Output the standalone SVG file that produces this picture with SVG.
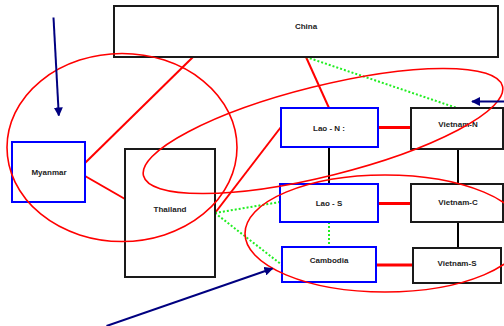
<svg xmlns="http://www.w3.org/2000/svg" width="504" height="326" viewBox="0 0 504 326">
<defs>
<style>
.box{fill:#fff;stroke:#1a1a1a;stroke-width:2}
.bbox{fill:#fff;stroke:#0000ff;stroke-width:2}
.lbl{font-family:"Liberation Sans",Arial,sans-serif;font-size:8px;font-weight:bold;fill:#222;text-anchor:middle}
.red{stroke:#ff0000;stroke-width:2;fill:none}
.red3{stroke:#ff0000;stroke-width:3;fill:none}
.blk{stroke:#000;stroke-width:2;fill:none}
.grn{stroke:#22ee22;stroke-width:2;stroke-dasharray:2 2;fill:none}
.ell{stroke:#ff0000;stroke-width:1.6;fill:none}
.arr{stroke:#000080;stroke-width:2;fill:none;marker-end:url(#ah)}
</style>
<marker id="ah" viewBox="0 0 10 10" refX="9" refY="5" markerWidth="4.5" markerHeight="4.5" orient="auto" markerUnits="strokeWidth">
<path d="M0,0 L10,5 L0,10 z" fill="#000080"/>
</marker>
</defs>
<rect width="504" height="326" fill="#fff"/>
<g id="connectors">
<line class="red" x1="193" y1="57" x2="85" y2="163"/>
<line class="red" x1="85" y1="176" x2="125" y2="199"/>
<line class="red" x1="306" y1="57" x2="329" y2="108"/>
<line class="grn" x1="306" y1="57" x2="457" y2="108"/>
<line class="red3" x1="378" y1="127.5" x2="411" y2="127.5"/>
<line class="red" x1="215" y1="213" x2="281" y2="127"/>
<line class="grn" x1="215" y1="213" x2="280" y2="202"/>
<line class="grn" x1="215" y1="213" x2="282" y2="265"/>
<line class="blk" x1="329" y1="147" x2="329" y2="184"/>
<line class="blk" x1="458" y1="149" x2="458" y2="184"/>
<line class="red3" x1="378" y1="203.5" x2="411" y2="203.5"/>
<line class="grn" x1="329" y1="222" x2="329" y2="247"/>
<line class="blk" x1="458" y1="222" x2="458" y2="248"/>
<line class="red3" x1="376" y1="265" x2="413" y2="265"/>
</g>
<g id="china"><rect class="box" x="114" y="6" width="384" height="51"/><text class="lbl" x="306" y="29">China</text></g>
<g id="myanmar"><rect class="bbox" x="12" y="142" width="73" height="60"/><text class="lbl" x="49" y="175">Myanmar</text></g>
<g id="thailand"><rect class="box" x="125" y="149" width="90" height="128"/><text class="lbl" x="170" y="212">Thailand</text></g>
<g id="lao-n"><rect class="bbox" x="281" y="108" width="97" height="39"/><text class="lbl" x="329" y="131">Lao - N :</text></g>
<g id="vietnam-n"><rect class="box" x="411" y="108" width="92" height="41"/><text class="lbl" x="458" y="127">Vietnam-N</text></g>
<g id="lao-s"><rect class="bbox" x="280" y="184" width="98" height="38"/><text class="lbl" x="329" y="206">Lao - S</text></g>
<g id="vietnam-c"><rect class="box" x="411" y="184" width="92" height="38"/><text class="lbl" x="458" y="204.5">Vietnam-C</text></g>
<g id="cambodia"><rect class="bbox" x="282" y="247" width="94" height="35"/><text class="lbl" x="329" y="263">Cambodia</text></g>
<g id="vietnam-s"><rect class="box" x="413" y="248" width="88" height="35"/><text class="lbl" x="457" y="266">Vietnam-S</text></g>
<g id="annotations">
<ellipse class="ell" cx="122" cy="147.5" rx="115" ry="94"/>
<ellipse class="ell" cx="323" cy="131" rx="185" ry="45" transform="rotate(-14 323 131)"/>
<ellipse class="ell" cx="385" cy="233.5" rx="140" ry="58.5"/>
<line class="arr" x1="53.5" y1="17.5" x2="58.8" y2="115.5"/>
<line class="arr" x1="506" y1="101.5" x2="472" y2="101.5"/>
<line class="arr" x1="106.5" y1="326" x2="272.5" y2="268.5"/>
</g>
</svg>
